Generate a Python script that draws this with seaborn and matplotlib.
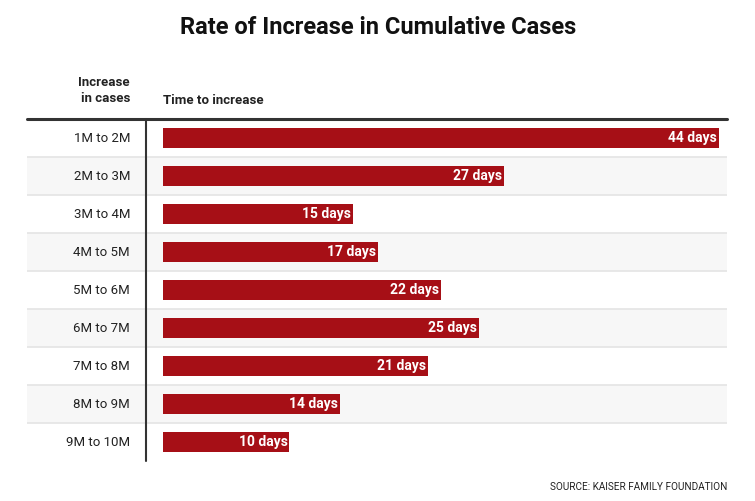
import numpy as np
import pandas as pd
import matplotlib
matplotlib.use("Agg")
import matplotlib.pyplot as plt
import seaborn as sns

ranges = ["1M to 2M", "2M to 3M", "3M to 4M", "4M to 5M", "5M to 6M",
          "6M to 7M", "7M to 8M", "8M to 9M", "9M to 10M"]
days = [44, 27, 15, 17, 22, 25, 21, 14, 10]

title = "Rate of Increase in Cumulative Cases"
source = "SOURCE: KAISER FAMILY FOUNDATION"

sns.set_style("white")
plt.rcParams["font.family"] = ["Roboto", "DejaVu Sans"]

BAR = "#a60f16"
W, H = 755, 501

df = pd.DataFrame({"range": ranges, "days": days})

fig = plt.figure(figsize=(W / 100, H / 100), dpi=100)
ax = fig.add_axes([27 / W, 1 - 461 / H, 700 / W, 342 / H])

# alternating row shading and separators
for i in range(len(ranges)):
    if i % 2 == 1:
        ax.axhspan(i - 0.5, i + 0.5, color="#f7f7f7", zorder=0, lw=0)
    if i > 0:
        ax.axhline(i - 0.5, color="#e4e4e4", lw=1.2, zorder=1)

sns.barplot(data=df, x="days", y="range", orient="h", color=BAR,
            saturation=1, width=0.53, linewidth=0, ax=ax, zorder=2)

px_per_day = (719 - 163) / 44
ax.set_xlim(-(163 - 27) / px_per_day, (727 - 163) / px_per_day)
ax.set_ylim(len(ranges) - 0.5, -0.5)
ax.axis("off")

# header rule and divider
ax.axhline(-0.5, color="#333333", lw=2.2, zorder=4, clip_on=False)
x_div = -(163 - 146) / px_per_day
ax.plot([x_div, x_div], [-0.5, len(ranges) - 0.5], color="#333333", lw=1.5,
        zorder=4, clip_on=False)

x_lab = -(163 - 130) / px_per_day
for i, (r, d) in enumerate(zip(ranges, days)):
    ax.text(x_lab, i, r, ha="right", va="center", fontsize=9.5, color="#222222")
    ax.text(d - 0.15, i, f"{d} days", ha="right", va="center", fontsize=10,
            color="white", fontweight="bold", zorder=5)

fig.text(378 / W, 1 - 28 / H, title, ha="center", va="center",
         fontsize=17, fontweight="bold", color="#111111")
fig.text(130 / W, 1 - 91 / H, "Increase\nin cases", ha="right", va="center",
         fontsize=9.5, fontweight="bold", color="#222222", linespacing=1.3)
fig.text(163 / W, 1 - 101 / H, "Time to increase", ha="left", va="center",
         fontsize=9.5, fontweight="bold", color="#222222")
fig.text(727 / W, 1 - 487 / H, source, ha="right", va="center",
         fontsize=7.2, color="#222222")

fig.savefig("out.png", dpi=100)
